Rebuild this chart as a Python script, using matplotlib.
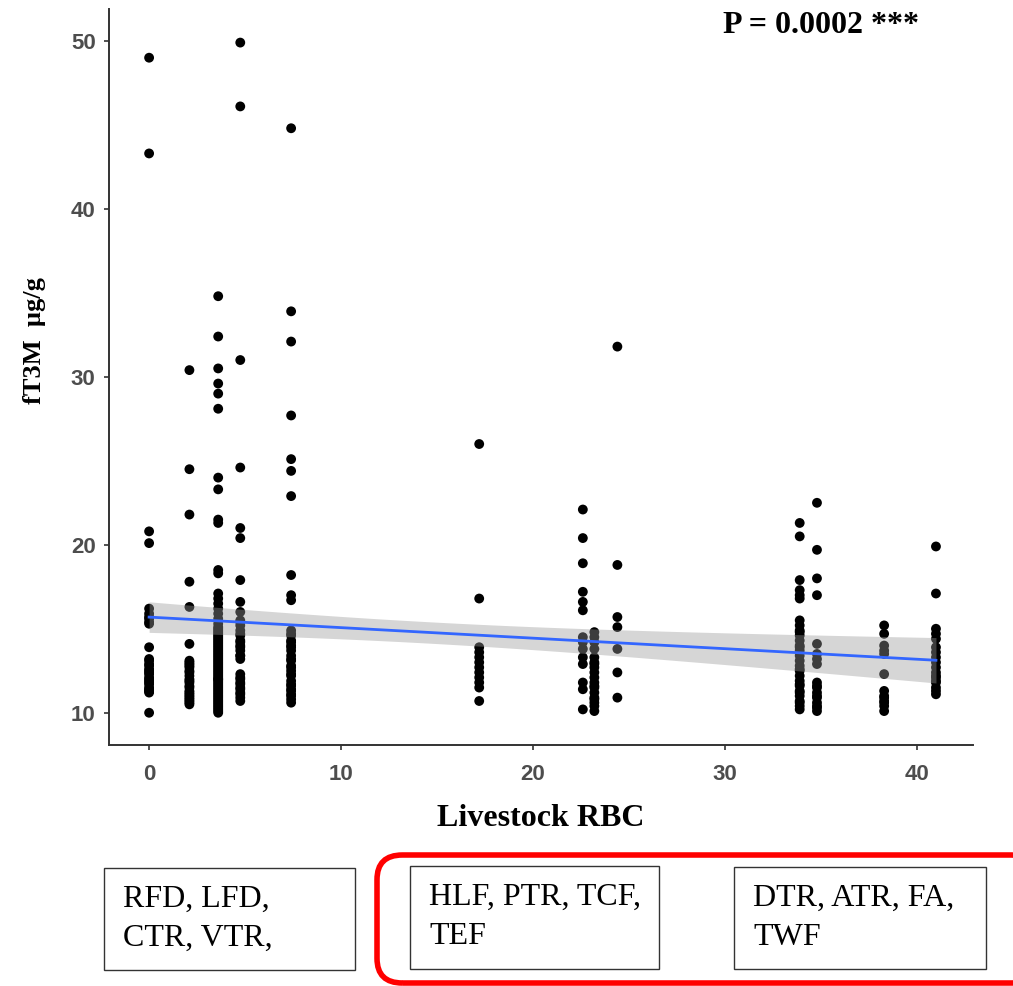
import numpy as np
import matplotlib.pyplot as plt
from matplotlib.patches import Rectangle, FancyBboxPatch

# livestock RBC value of each site group and the fT3M readings measured there
# (dense runs contain overplotted repeats)
rbc_levels = [0.0, 2.1, 3.6, 4.75, 7.4, 17.2, 22.6, 23.2, 24.4, 33.9, 34.8, 38.3, 41.0]

ft3m_0 = [49.0, 43.3, 20.8, 20.1, 16.2, 15.9, 15.7, 15.6, 15.4, 15.3, 13.9, 13.2,
          13.1, 12.9, 12.8, 12.6, 12.5, 12.4, 12.3, 12.1, 12.0, 11.9, 11.8, 11.7,
          11.5, 11.4, 11.3, 11.3, 11.2, 10.0]
ft3m_2 = [30.4, 24.5, 21.8, 17.8, 16.3, 14.1, 13.1, 13.0, 12.9, 12.8, 12.7, 12.5,
          12.4, 12.2, 12.0, 11.9, 11.8, 11.6, 11.5, 11.3, 11.2, 11.1, 11.0, 10.9,
          10.8, 10.7, 10.6, 10.5]
ft3m_3 = [34.8, 32.4, 30.5, 29.6, 29.0, 28.1, 24.0, 23.3, 21.5, 21.3, 18.5, 18.3,
          17.1, 16.8, 16.5, 16.2, 15.9, 15.6, 15.3, 15.1, 15.0, 14.9, 14.8, 14.7,
          14.6, 14.5, 14.4, 14.3, 14.2, 14.1, 14.0, 13.9, 13.8, 13.7, 13.6, 13.5,
          13.4, 13.3, 13.2, 13.1, 13.0, 12.9, 12.8, 12.7, 12.6, 12.5, 12.4, 12.3,
          12.2, 12.1, 12.0, 12.0, 11.9, 11.8, 11.7, 11.6, 11.5, 11.4, 11.3, 11.2,
          11.1, 11.0, 10.9, 10.8, 10.7, 10.6, 10.5, 10.4, 10.3, 10.2, 10.1, 10.0]
ft3m_4 = [49.9, 46.1, 31.0, 24.6, 21.0, 20.4, 17.9, 16.6, 16.0, 15.5, 15.4, 15.2,
          14.9, 14.7, 14.6, 14.3, 14.2, 14.0, 13.9, 13.7, 13.4, 13.4, 13.2, 12.3,
          12.1, 12.0, 11.8, 11.7, 11.5, 11.4, 11.2, 11.1, 10.9, 10.7]
ft3m_7 = [44.8, 33.9, 32.1, 27.7, 25.1, 24.4, 22.9, 18.2, 17.0, 16.7, 14.9, 14.7,
          14.6, 14.3, 14.2, 14.0, 13.9, 13.7, 13.4, 13.2, 13.1, 12.8, 12.7, 12.5,
          12.3, 12.2, 11.9, 11.7, 11.6, 11.4, 11.3, 11.1, 11.0, 10.8, 10.6]
ft3m_17 = [26.0, 16.8, 13.9, 13.6, 13.3, 13.0, 12.7, 12.4, 12.1, 11.8, 11.5, 10.7]
ft3m_22 = [22.1, 20.4, 18.9, 17.2, 16.6, 16.1, 14.5, 14.2, 13.8, 13.3, 12.9, 11.8,
           11.4, 10.2]
ft3m_23 = [14.8, 14.5, 14.2, 13.8, 13.3, 13.0, 12.9, 12.7, 12.4, 12.1, 11.8, 11.6,
           11.5, 11.2, 10.9, 10.8, 10.6, 10.4, 10.1]
ft3m_24 = [31.8, 18.8, 15.7, 15.1, 13.8, 12.4, 10.9]
ft3m_33 = [21.3, 20.5, 17.9, 17.3, 17.0, 16.8, 15.5, 15.2, 14.9, 14.8, 14.6, 14.3,
           14.0, 13.9, 13.7, 13.4, 13.1, 12.8, 12.6, 12.5, 12.2, 11.9, 11.7, 11.6,
           11.3, 11.2, 11.0, 10.7, 10.6, 10.4, 10.2]
ft3m_34 = [22.5, 19.7, 18.0, 17.0, 14.1, 13.5, 13.2, 12.9, 11.8, 11.6, 11.5, 11.2,
           11.0, 10.9, 10.6, 10.4, 10.3, 10.1]
ft3m_38 = [15.2, 14.7, 14.0, 13.7, 13.5, 12.3, 11.3, 11.0, 10.9, 10.7, 10.6, 10.4,
           10.1]
ft3m_41 = [19.9, 17.1, 15.0, 14.7, 14.4, 13.9, 13.6, 13.3, 13.0, 12.7, 12.4, 12.2,
           12.1, 11.9, 11.8, 11.5, 11.3, 11.1]

groups = [ft3m_0, ft3m_2, ft3m_3, ft3m_4, ft3m_7, ft3m_17, ft3m_22, ft3m_23,
          ft3m_24, ft3m_33, ft3m_34, ft3m_38, ft3m_41]

x_ticks = [0, 10, 20, 30, 40]
y_ticks = [10, 20, 30, 40, 50]
p_label = "P = 0.0002 ***"
box_texts = ["RFD, LFD,\nCTR, VTR,", "HLF, PTR, TCF,\nTEF", "DTR, ATR, FA,\nTWF"]

x = np.concatenate([[lvl] * len(g) for lvl, g in zip(rbc_levels, groups)])
y = np.concatenate(groups)

# linear fit with 95% confidence band
n = len(x)
slope, intercept = np.polyfit(x, y, 1)
resid = y - (intercept + slope * x)
s = np.sqrt(np.sum(resid ** 2) / (n - 2))
xs = np.linspace(x.min(), x.max(), 80)
fit = intercept + slope * xs
se = s * np.sqrt(1 / n + (xs - x.mean()) ** 2 / np.sum((x - x.mean()) ** 2))
tval = 1.97

W, H = 1013, 986
fig = plt.figure(figsize=(W / 100, H / 100), dpi=100)
ax = fig.add_axes([109 / W, 1 - 745 / H, (973 - 109) / W, (745 - 9) / H])

ax.scatter(x, y, s=50, color='black', edgecolors='none', zorder=2)
ax.fill_between(xs, fit - tval * se, fit + tval * se, color='#999999', alpha=0.4,
                linewidth=0, zorder=3)
ax.plot(xs, fit, color='#3366FF', lw=2, zorder=4)

ax.set_xlim(-2.09, 42.93)
ax.set_ylim(8.08, 51.9)
ax.set_xticks(x_ticks)
ax.set_yticks(y_ticks)
for side in ['top', 'right']:
    ax.spines[side].set_visible(False)
for side in ['left', 'bottom']:
    ax.spines[side].set_linewidth(1.4)
    ax.spines[side].set_color('#333333')
ax.tick_params(length=3.6, width=1.2, color='#333333', labelcolor='#4D4D4D')
ax.tick_params(axis='x', pad=10)
ax.tick_params(axis='y', pad=6)
for lab in ax.get_xticklabels() + ax.get_yticklabels():
    lab.set_fontfamily('Liberation Sans')
    lab.set_fontweight('bold')
    lab.set_fontsize(16)

ax.set_xlabel("Livestock RBC", fontfamily='Liberation Serif', fontweight='bold',
              fontsize=23, labelpad=14)
ax.set_ylabel("fT3M  µg/g", fontfamily='Liberation Serif', fontweight='bold',
              fontsize=19)
ax.yaxis.set_label_coords(-0.073, 0.55)
ax.text(0.824, 0.978, p_label, transform=ax.transAxes, ha='center', va='center',
        fontfamily='Liberation Serif', fontweight='bold', fontsize=23)

# site-group boxes under the axis
box_pos = [(104, 868, 251, 102), (410, 866, 249, 103), (734, 867, 252, 102)]
for (bx, by, bw, bh), txt in zip(box_pos, box_texts):
    fig.patches.append(Rectangle((bx / W, 1 - (by + bh) / H), bw / W, bh / H,
                                 transform=fig.transFigure, fill=False,
                                 edgecolor='#333333', lw=1))
    fig.text((bx + 19) / W, 1 - (by + 17) / H, txt, ha='left', va='top',
             fontfamily='Liberation Serif', fontsize=23, linespacing=1.45)

fig.patches.append(FancyBboxPatch((377 / W, 1 - 983 / H), 660 / W, 128 / H,
                                  boxstyle="round,pad=0,rounding_size=0.025",
                                  transform=fig.transFigure, fill=False,
                                  edgecolor='#FF0000', lw=4))

fig.savefig("out.png", dpi=100)
